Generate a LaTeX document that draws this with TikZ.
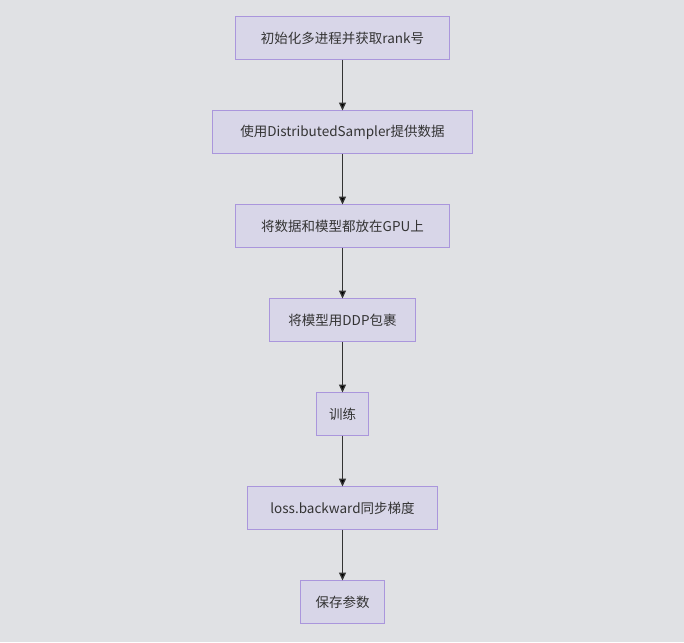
\documentclass[tikz,border=0pt]{standalone}
\usepackage{fontspec}
\setmainfont{Noto Sans CJK SC}
\usetikzlibrary{arrows.meta}
\definecolor{bgcol}{RGB}{224,225,228}
\definecolor{boxfill}{RGB}{216,214,232}
\definecolor{boxline}{RGB}{170,150,220}
\definecolor{arrowcol}{RGB}{51,51,51}
\tikzset{
  stepbox/.style={draw=boxline,fill=boxfill,line width=1.2pt,outer sep=0pt,minimum height=43pt,inner xsep=2pt,font=\fontsize{13.5pt}{16pt}\selectfont,text=black!80},
  flow/.style={-{Triangle[length=8pt,width=7pt]},draw=arrowcol,line width=1.3pt}
}
\begin{document}
\begin{tikzpicture}[x=1pt,y=1pt]
                \fill[bgcol] (0,0) rectangle (684,-642);
                \useasboundingbox (0,0) rectangle (684,-642);
                \node[stepbox,minimum width=214pt] (init) at (342.5,-38) {初始化多进程并获取rank号};
                \node[stepbox,minimum width=260pt] (sampler) at (342.5,-132) {使用DistributedSampler提供数据};
                \node[stepbox,minimum width=214pt] (gpu) at (342.5,-226) {将数据和模型都放在GPU上};
                \node[stepbox,minimum width=146pt] (ddp) at (342.5,-320) {将模型用DDP包裹};
                \node[stepbox,minimum width=52pt] (train) at (342.5,-414) {训练};
                \node[stepbox,minimum width=190pt] (backward) at (342.5,-508) {loss.backward同步梯度};
                \node[stepbox,minimum width=84pt] (save) at (342.5,-602) {保存参数};

                \path [flow] (init) edge (sampler);
                \path [flow] (sampler) edge (gpu);
                \path [flow] (gpu) edge (ddp);
                \path [flow] (ddp) edge (train);
                \path [flow] (train) edge (backward);
                \path [flow] (backward) edge (save);
            \end{tikzpicture}
\end{document}
